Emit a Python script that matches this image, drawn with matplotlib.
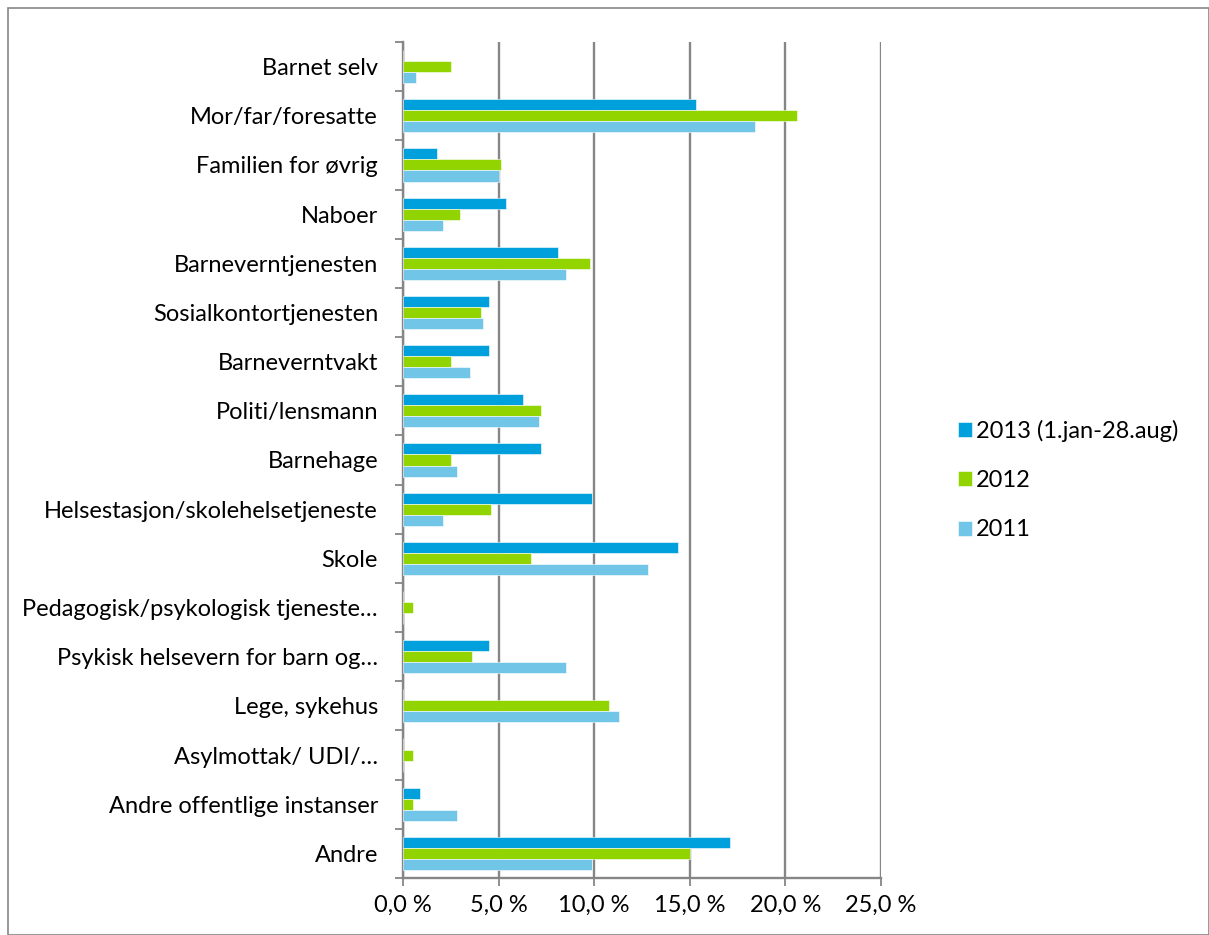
import matplotlib
matplotlib.use("Agg")
import matplotlib.pyplot as plt
import numpy as np
from matplotlib.patches import Rectangle

categories = ["Barnet selv", "Mor/far/foresatte", "Familien for øvrig", "Naboer",
              "Barneverntjenesten", "Sosialkontortjenesten", "Barneverntvakt",
              "Politi/lensmann", "Barnehage", "Helsestasjon/skolehelsetjeneste",
              "Skole", "Pedagogisk/psykologisk tjeneste…", "Psykisk helsevern for barn og…",
              "Lege, sykehus", "Asylmottak/ UDI/…", "Andre offentlige instanser", "Andre"]
series_names = ["2013 (1.jan-28.aug)", "2012", "2011"]
v2013 = [0.0, 15.3, 1.8, 5.4, 8.1, 4.5, 4.5, 6.3, 7.2, 9.9, 14.4, 0.0, 4.5, 0.0, 0.0, 0.9, 17.1]
v2012 = [2.5, 20.6, 5.1, 3.0, 9.8, 4.1, 2.5, 7.2, 2.5, 4.6, 6.7, 0.5, 3.6, 10.8, 0.5, 0.5, 15.0]
v2011 = [0.7, 18.4, 5.0, 2.1, 8.5, 4.2, 3.5, 7.1, 2.8, 2.1, 12.8, 0.0, 8.5, 11.3, 0.0, 2.8, 9.9]
xticks = [0, 5, 10, 15, 20, 25]
xticklabels = ["0,0 %", "5,0 %", "10,0 %", "15,0 %", "20,0 %", "25,0 %"]
colors = ["#00A0DC", "#92D400", "#71C6E8"]

plt.rcParams['font.family'] = ['Lato', 'DejaVu Sans']
FS = 17

fig = plt.figure(figsize=(12.09, 9.35), dpi=100)
ax = fig.add_axes([403/1209, 1 - 878/935, (881-403)/1209, (878-42)/935])

n = len(categories)
y = np.arange(n)
h = 0.225
for i, (vals, c, name) in enumerate(zip([v2013, v2012, v2011], colors, series_names)):
    ax.barh(y + (i - 1) * h, vals, height=h, color=c, label=name,
            edgecolor="white", linewidth=0.4, zorder=3)

ax.set_xlim(0, 25)
ax.set_ylim(n - 0.5, -0.5)
ax.set_xticks(xticks)
ax.set_xticklabels(xticklabels, fontsize=FS)
ax.set_yticks(y)
ax.set_yticklabels(categories, fontsize=FS)
ax.tick_params(axis='y', length=0, pad=18)
ax.set_yticks(np.arange(-0.5, n, 1), minor=True)
ax.tick_params(axis='y', which='minor', length=6, color='#868686', width=1.3)
ax.tick_params(axis='x', length=6, color='#868686', width=1.3, pad=6)
ax.grid(axis='x', color='#868686', linewidth=1.7, zorder=0)
for s in ['top', 'right']:
    ax.spines[s].set_visible(False)
for s in ['left', 'bottom']:
    ax.spines[s].set_color('#868686')
    ax.spines[s].set_linewidth(1.7)

leg = ax.legend(loc='center left', bbox_to_anchor=(937/1209, 1 - 480/935),
                bbox_transform=fig.transFigure, frameon=False, fontsize=FS,
                handlelength=0.6, handleheight=0.6, handletextpad=0.15,
                labelspacing=1.2)

fig.patches.append(Rectangle((8/1209, 0), 1 - 8/1209 - 0.5/1209, 1 - 8/935,
                             transform=fig.transFigure, fill=False,
                             edgecolor='#868686', linewidth=1.2))
fig.savefig("out.png", dpi=100)
